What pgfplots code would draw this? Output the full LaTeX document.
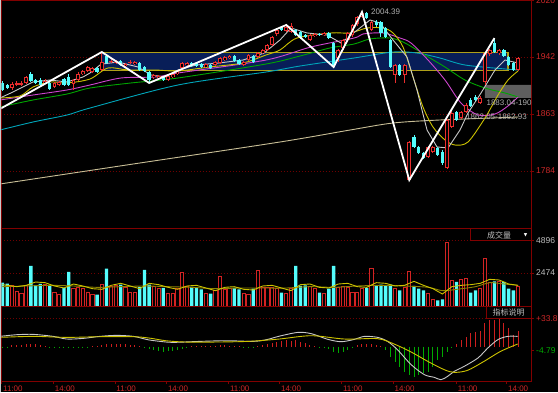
\documentclass[border=0pt]{standalone}
\usepackage{pgfplots}
\pgfplotsset{compat=1.18}
\usepackage{pgfplotstable}
\usepackage{fontspec}
\setmainfont{Liberation Sans}
\newfontfamily\cjk{Noto Sans CJK SC}
\newfontfamily\dejavu{DejaVu Sans}

\definecolor{upred}{RGB}{235,45,45}
\definecolor{volred}{RGB}{210,35,35}
\definecolor{downcyan}{RGB}{84,252,252}
\definecolor{framered}{RGB}{130,0,0}
\definecolor{gridred}{RGB}{110,0,0}
\definecolor{labelred}{RGB}{205,40,40}
\definecolor{labelgrey}{RGB}{190,190,190}
\definecolor{textgrey}{RGB}{175,175,175}
\definecolor{maw}{RGB}{200,200,200}
\definecolor{may}{RGB}{205,195,0}
\definecolor{mam}{RGB}{205,70,205}
\definecolor{mag}{RGB}{0,165,0}
\definecolor{mat}{RGB}{0,165,185}
\definecolor{mab}{RGB}{200,190,150}
\definecolor{boxfill}{RGB}{8,30,88}
\definecolor{boxedge}{RGB}{175,160,25}
\definecolor{greybox}{RGB}{95,95,95}
\definecolor{macdgreen}{RGB}{0,170,0}
\definecolor{macdred}{RGB}{205,30,30}
\definecolor{vololive}{RGB}{140,130,0}
\definecolor{winborder}{RGB}{200,200,200}

\pgfplotstableread{
i o h l c v m
0 1906.0 1908.7 1894.9 1896.3 1750 -1.0
1 1903.2 1904.6 1897.6 1899.0 1675 -1.2
2 1899.0 1907.4 1896.3 1904.6 1550 1.5
3 1903.9 1908.7 1901.8 1906.0 1100 2.0
4 1904.0 1908.7 1901.8 1906.0 925 2.5
5 1906.0 1915.7 1904.6 1914.3 1550 3.0
6 1918.4 1921.2 1907.4 1908.7 3000 3.5
7 1910.1 1911.5 1904.6 1906.0 1550 3.0
8 1910.1 1912.9 1901.8 1903.2 1650 2.0
9 1906.0 1911.5 1904.6 1908.7 1600 1.0
10 1906.0 1907.4 1896.3 1897.6 1500 -0.5
11 1900.4 1907.4 1899.0 1906.0 1050 -1.0
12 1903.2 1908.7 1901.8 1907.4 900 -1.5
13 1911.5 1912.9 1901.8 1903.2 1350 -1.8
14 1914.3 1918.4 1901.8 1903.2 2550 -2.0
15 1904.6 1911.5 1896.3 1910.1 1350 -1.8
16 1910.1 1921.2 1908.7 1918.4 1400 -1.5
17 1918.4 1924.0 1917.1 1922.6 1350 -1.0
18 1922.6 1929.5 1921.2 1928.1 1000 -0.5
19 1921.2 1928.1 1919.8 1926.8 850 0.5
20 1926.8 1928.1 1919.8 1921.2 850 1.0
21 1924.0 1948.9 1922.6 1935.1 1600 2.0
22 1943.4 1946.2 1932.3 1933.7 2800 3.0
23 1935.1 1939.2 1933.7 1936.5 1500 3.5
24 1933.7 1937.8 1932.3 1935.1 1550 3.5
25 1936.5 1937.8 1929.5 1930.9 1600 3.0
26 1929.5 1933.7 1928.1 1932.3 1425 3.0
27 1933.7 1937.8 1932.3 1935.1 1050 2.5
28 1932.3 1936.5 1930.9 1935.1 1000 1.5
29 1933.7 1935.1 1922.6 1924.0 1425 0.5
30 1928.1 1929.5 1921.2 1922.6 2700 -1.5
31 1921.2 1922.6 1906.0 1910.1 1600 -3.0
32 1914.3 1918.4 1911.5 1917.1 1500 -4.5
33 1912.9 1917.1 1910.1 1915.7 1350 -5.5
34 1914.3 1915.7 1908.7 1910.1 1350 -6.0
35 1910.1 1917.1 1908.7 1915.7 925 -5.5
36 1914.3 1919.8 1912.9 1918.4 925 -5.0
37 1918.4 1924.0 1917.1 1922.6 1350 -4.0
38 1926.8 1935.1 1925.4 1933.7 2500 -2.5
39 1930.9 1935.1 1929.5 1933.7 1500 -1.0
40 1933.7 1935.1 1928.1 1929.5 1425 0.5
41 1933.7 1935.1 1928.1 1929.5 1350 1.0
42 1932.3 1933.7 1926.8 1928.1 1250 1.0
43 1928.1 1933.7 1926.8 1932.3 925 1.2
44 1930.9 1932.3 1925.4 1926.8 925 1.2
45 1930.9 1936.5 1929.5 1935.1 1175 1.0
46 1933.7 1942.0 1932.3 1940.6 2250 1.5
47 1937.8 1943.4 1936.5 1942.0 1250 1.5
48 1940.6 1944.8 1939.2 1943.4 1350 1.2
49 1943.4 1944.8 1935.1 1936.5 1350 1.0
50 1937.8 1939.2 1930.9 1932.3 1250 0.5
51 1930.9 1936.5 1929.5 1935.1 925 -0.8
52 1937.8 1946.2 1936.5 1944.8 850 -1.0
53 1943.4 1944.8 1933.7 1935.1 1300 -0.8
54 1942.0 1948.9 1940.6 1947.5 2700 1.0
55 1947.5 1953.1 1946.2 1951.7 1425 2.0
56 1951.7 1960.0 1950.3 1958.6 1425 3.0
57 1958.6 1971.1 1957.2 1969.7 1425 4.5
58 1973.9 1980.8 1971.1 1979.4 1350 6.0
59 1983.6 1985.0 1978.0 1979.4 1000 7.0
60 1978.0 1986.4 1976.7 1983.6 925 7.5
61 1976.7 1989.1 1975.3 1985.0 1350 7.0
62 1979.4 1980.8 1971.1 1972.5 3000 7.5
63 1976.7 1978.0 1966.9 1968.3 1500 6.0
64 1972.5 1973.9 1968.3 1969.7 1550 4.0
65 1965.6 1973.9 1964.2 1972.5 1500 2.5
66 1971.1 1975.3 1969.7 1973.9 1350 1.0
67 1973.9 1975.3 1971.1 1972.5 1000 -0.5
68 1972.5 1976.7 1971.1 1975.3 925 -1.5
69 1975.3 1976.7 1966.9 1968.3 1300 -3.0
70 1961.4 1962.8 1928.1 1930.9 3000 -6.0
71 1940.6 1953.1 1935.1 1951.7 1425 -7.0
72 1954.5 1967.0 1951.7 1965.6 1500 -6.0
73 1965.6 1976.7 1962.8 1975.3 1425 -3.5
74 1972.5 1987.7 1969.7 1986.4 1050 -1.0
75 1987.7 1998.8 1985.0 1997.4 1000 1.5
76 1997.4 2004.39 1996.1 2003.0 1350 3.0
77 2003.0 2004.0 1994.7 1996.1 1350 3.5
78 1979.4 1991.9 1978.0 1990.5 2800 3.0
79 1990.5 1993.3 1983.6 1986.4 1500 2.5
80 1990.5 1991.9 1969.7 1975.3 1600 1.0
81 1982.2 1983.6 1968.3 1969.7 1550 -4.0
82 1965.6 1967.0 1926.8 1928.1 1600 -12.0
83 1917.1 1932.3 1906.0 1930.9 1300 -18.0
84 1930.9 1932.3 1915.7 1917.1 1175 -24.0
85 1917.1 1932.3 1906.0 1930.9 1425 -30.0
86 1771.5 1825.6 1771.5 1824.2 2600 -34.0
87 1831.1 1833.9 1815.9 1817.3 1500 -36.0
88 1817.3 1818.7 1807.5 1808.9 1300 -34.0
89 1808.9 1810.3 1800.6 1802.0 1175 -32.0
90 1803.4 1818.7 1802.0 1817.3 925 -30.0
91 1810.3 1818.7 1808.9 1817.3 500 -24.0
92 1815.9 1817.3 1804.8 1806.2 425 -16.0
93 1810.3 1813.1 1792.3 1795.1 500 -12.0
94 1788.2 1856.1 1786.8 1854.7 4750 -6.0
95 1845.0 1867.2 1843.6 1864.4 1925 -2.0
96 1865.8 1867.2 1853.3 1854.7 1800 3.0
97 1857.4 1867.2 1856.1 1865.8 2000 8.0
98 1865.8 1878.2 1864.4 1875.5 2100 12.0
99 1882.4 1885.2 1872.7 1874.1 1000 16.0
100 1886.6 1889.4 1881.0 1882.4 1175 18.0
101 1878.2 1888.0 1876.8 1885.2 1300 19.0
102 1907.4 1948.9 1903.2 1947.5 3600 28.0
103 1946.2 1953.1 1943.4 1951.7 1800 32.0
104 1961.4 1968.3 1947.5 1948.9 1850 32.0
105 1947.5 1953.1 1944.8 1951.7 1850 34.0
106 1951.7 1953.1 1942.0 1943.4 1800 28.0
107 1942.0 1943.4 1929.5 1930.9 1300 22.0
108 1933.7 1935.1 1922.6 1924.0 1175 14.0
109 1924.0 1942.0 1922.6 1940.6 1500 19.0
}\kline

\pgfplotsset{
  panel/.style={
    scale only axis, anchor=south west, width=529.5pt,
    xmin=-0.211, xmax=111.73,
    axis line style={draw=framered, line width=0.8pt},
    tick style={draw=framered, line width=0.6pt},
    tick align=outside, major tick length=3pt,
    ytick pos=right, yticklabel pos=right,
    yticklabel shift=2pt,
    yticklabel style={anchor=west, inner sep=0pt, font=\fontsize{8.5}{9}\selectfont},
    ymajorgrids, grid style={draw=gridred, line width=0.7pt, dash pattern=on 1pt off 2pt},
    /pgf/number format/assume math mode=true,
  },
  candle/.style={draw=none, mark=none, error bars/.cd, y dir=both, y explicit, error mark=none},
}

\begin{document}
\begin{tikzpicture}[x=1pt,y=1pt]
\fill[black] (0pt,0pt) rectangle (558pt,392pt);
\path[use as bounding box] (0pt,0pt) rectangle (558pt,392pt);

% ---------------- price panel ----------------
\begin{axis}[panel, at={(1.5pt,163.5pt)}, height=228.5pt,
  ymin=1704.3, ymax=2021.0, xtick=\empty,
  ytick={1784,1863,1942,2020}, yticklabels={1784,1863,1942,2020},
  yticklabel style={text=labelred}]
\addplot[fill=boxfill, draw=boxedge, line width=1.2pt] coordinates {(20.97,1948.5) (106.87,1948.5) (106.87,1923.0) (20.97,1923.0) (20.97,1948.5)};
\addplot[fill=greybox, draw=none] coordinates {(102.0,1903.2) (112.5,1903.2) (112.5,1885.2) (102.0,1885.2) (102.0,1903.2)};
% moving averages
\addplot[mab, line width=0.9pt, smooth] coordinates {(-0.53,1766.0) (29.07,1795.1) (58.67,1824.2) (73.47,1840.8) (82.56,1850.5) (92.49,1854.7) (108.99,1858.8)};
\addplot[mat, line width=0.9pt, smooth] coordinates {(-0.53,1840.8) (6.45,1851.9) (13.64,1861.6) (18.50,1871.3) (37.10,1903.2) (55.71,1921.2) (62.90,1929.5) (74.31,1940.6) (82.56,1948.9) (87.63,1947.5) (92.49,1940.6) (97.78,1930.9) (106.24,1925.4) (108.99,1924.0)};
\addplot[mag, line width=0.9pt, smooth] coordinates {(-0.53,1872.7) (6.45,1882.4) (13.64,1890.7) (18.50,1899.0) (27.17,1906.0) (37.10,1912.9) (55.71,1932.3) (62.90,1943.4) (69.24,1954.5) (74.31,1960.0) (77.70,1967.0) (81.92,1968.3) (84.67,1962.8) (87.63,1951.7) (90.38,1940.6) (93.55,1928.1) (97.78,1910.1) (102.01,1899.0) (106.24,1892.1) (108.99,1886.6)};
\addplot[mam, line width=0.9pt, smooth] coordinates {(-0.53,1882.4) (6.45,1889.3) (13.64,1896.3) (18.50,1903.2) (25.05,1912.9) (32.24,1914.3) (37.10,1919.8) (55.71,1937.8) (65.22,1955.9) (74.31,1968.3) (76.22,1973.9) (80.44,1975.3) (84.04,1968.3) (86.36,1961.4) (89.96,1937.8) (93.55,1910.1) (96.93,1878.2) (100.53,1861.6) (104.12,1863.0) (106.87,1874.1) (108.99,1886.6)};
\addplot[may, line width=0.9pt, smooth] coordinates {(-0.53,1885.2) (3.70,1888.0) (6.45,1900.4) (10.04,1907.4) (13.64,1906.0) (18.50,1911.5) (22.30,1926.8) (26.53,1924.0) (32.24,1924.0) (37.10,1922.6) (43.66,1928.1) (50.85,1933.7) (55.71,1944.8) (58.67,1951.7) (62.26,1968.3) (69.45,1975.3) (73.47,1975.3) (77.06,1982.2) (80.44,1982.2) (82.56,1975.3) (84.67,1955.9) (86.79,1914.3) (88.90,1872.7) (91.01,1845.0) (93.55,1827.0) (95.67,1820.0) (98.41,1824.2) (102.01,1857.5) (104.76,1889.3) (106.87,1910.1) (108.99,1922.6)};
\addplot[maw, line width=0.9pt] coordinates {(-0.53,1885.2) (2.22,1893.5) (6.45,1907.4) (10.04,1910.1) (13.64,1907.4) (17.02,1914.3) (18.50,1919.8) (20.82,1932.0) (24.42,1935.1) (28.65,1928.1) (31.40,1917.1) (34.36,1914.3) (37.10,1924.0) (40.91,1930.9) (45.77,1933.7) (50.85,1937.8) (55.29,1947.5) (58.67,1965.6) (60.99,1982.2) (64.38,1975.3) (68.60,1972.5) (71.56,1961.4) (73.68,1972.5) (77.70,1993.3) (79.81,1989.1) (82.56,1965.6) (85.52,1942.0) (87.63,1896.3) (89.75,1840.8) (91.86,1817.3) (94.19,1815.9) (96.72,1840.8) (98.41,1864.4) (101.16,1892.1) (104.12,1924.0) (106.24,1937.8) (108.99,1933.7)};
% candles: falling (cyan, filled)
\addplot[candle, error bar style={draw=downcyan, line width=0.9pt}]
  table[x=i, y expr={\thisrow{c}<\thisrow{o} ? (\thisrow{h}+\thisrow{l})/2 : nan}, y error expr={(\thisrow{h}-\thisrow{l})/2}] {\kline};
\addplot[candle, error bar style={draw=downcyan, line width=3.3pt}]
  table[x=i, y expr={\thisrow{c}<\thisrow{o} ? (\thisrow{o}+\thisrow{c})/2 : nan}, y error expr={(\thisrow{o}-\thisrow{c})/2}] {\kline};
% candles: rising (red, hollow)
\addplot[candle, error bar style={draw=upred, line width=0.9pt}]
  table[x=i, y expr={\thisrow{c}>=\thisrow{o} ? (\thisrow{h}+\thisrow{l})/2 : nan}, y error expr={(\thisrow{h}-\thisrow{l})/2}] {\kline};
\addplot[candle, error bar style={draw=upred, line width=3.9pt}]
  table[x=i, y expr={\thisrow{c}>=\thisrow{o} ? (\thisrow{o}+\thisrow{c})/2 : nan}, y error expr={(\thisrow{c}-\thisrow{o})/2}] {\kline};
\addplot[candle, error bar style={draw=black, line width=1.9pt}]
  table[x=i, y expr={\thisrow{c}>=\thisrow{o} ? (\thisrow{o}+\thisrow{c})/2 : nan}, y error expr={max((\thisrow{c}-\thisrow{o})/2-1.25,0)}] {\kline};
% zigzag
\addplot[white, line width=1.8pt] coordinates {(-0.53,1870.0) (21,1948.9) (31,1906.0) (60,1986.4) (70,1928.1) (76,2004.39) (86,1771.5) (104,1968.3)};
\node[anchor=west, text=textgrey, font=\fontsize{8}{9}\selectfont, inner sep=0pt] at (axis cs:77.9,2004.4) {2004.39};
\node[anchor=west, text=textgrey, font=\fontsize{8}{9}\selectfont, inner sep=0pt] at (axis cs:102.3,1878.2) {1883.04-190};
\node[anchor=west, text=textgrey, font=\fontsize{8}{9}\selectfont, inner sep=0pt] at (axis cs:98.0,1858.8) {1862.05-1862.93};
\end{axis}

% ---------------- volume panel ----------------
\begin{axis}[panel, at={(1.5pt,86pt)}, height=77.5pt, ymin=0, ymax=5812, xtick=\empty,
  ytick={2474,4896}, yticklabels={2474,4896}, yticklabel style={text=labelgrey}]
\addplot[ybar, bar width=3.3pt, bar shift=0pt, fill=downcyan, draw=none]
  table[x=i, y expr={\thisrow{c}<\thisrow{o} ? \thisrow{v} : nan}] {\kline};
\addplot[ybar, bar width=3.2pt, bar shift=0pt, fill=black, draw=volred, line width=0.9pt]
  table[x=i, y expr={\thisrow{c}>=\thisrow{o} ? \thisrow{v} : nan}] {\kline};
\addplot[vololive, line width=0.9pt, smooth] coordinates {(0,1450) (5,1500) (10,1550) (15,1500) (20,1400) (25,1450) (30,1500) (35,1450) (40,1400) (45,1300) (50,1350) (55,1350) (60,1350) (65,1450) (70,1400) (75,1500) (80,1550) (85,1500) (90,1400) (93,1150) (96,1250) (100,1450) (103,1750) (106,1650) (109,1550)};
\addplot[may, line width=0.9pt] coordinates {(0,1600) (3,1450) (5,1550) (7,1800) (9,1750) (11,1500) (13,1350) (15,1650) (17,1500) (19,1300) (21,1250) (23,1550) (25,1700) (27,1500) (29,1300) (31,1700) (33,1600) (35,1400) (37,1250) (39,1500) (41,1550) (43,1350) (45,1150) (47,1400) (49,1450) (51,1250) (53,1200) (55,1500) (57,1550) (59,1350) (61,1150) (63,1600) (65,1650) (67,1400) (69,1350) (71,1650) (73,1700) (75,1450) (77,1400) (79,1750) (81,1700) (83,1500) (85,1550) (87,1850) (89,1550) (91,1300) (93,900) (95,1450) (97,1550) (99,1600) (101,1700) (103,2000) (105,1950) (107,1650) (109,1550)};
\end{axis}

% ---------------- MACD panel ----------------
\begin{axis}[panel, at={(1.5pt,11pt)}, height=75pt, ymin=-41.16, ymax=48.84,
  ytick={33.87}, yticklabels={\textcolor{labelred}{+33.87}},
  extra y ticks={-4.79}, extra y tick labels={\textcolor{macdgreen}{-4.79}}, extra y tick style={grid=none},
  xtick={-0.15,10.78,23.8,34.7,47.8,58.6,71.7,82.6,96.0,106.6},
  xticklabels={11:00,14:00,11:00,14:00,11:00,14:00,11:00,14:00,11:00,14:00},
  xtick pos=left, xticklabel shift=1.5pt,
  xticklabel style={anchor=north west, inner sep=0pt, xshift=1.2pt, text=labelred, font=\fontsize{8}{9}\selectfont}]
\addplot[ycomb, draw=macdred, line width=1pt] table[x=i, y expr={\thisrow{m}>0 ? \thisrow{m} : nan}] {\kline};
\addplot[ycomb, draw=macdgreen, line width=1pt] table[x=i, y expr={\thisrow{m}<0 ? \thisrow{m} : nan}] {\kline};
\addplot[maw, line width=0.9pt, smooth] coordinates {(-0.53,12.4) (3,14.4) (6.5,14.8) (10.7,12.4) (13.6,9.2) (17.1,10) (20.6,12.4) (24.1,13.6) (27.7,12.4) (30.7,8.4) (33.3,6.4) (36.1,5.2) (41.8,6.4) (47.4,7.2) (53,6.4) (55.8,8.4) (58.5,12.6) (62.5,17.2) (65.3,15.6) (68.8,8.8) (71.6,6) (74.4,8.8) (76.5,12.4) (79.3,11.2) (81.4,6.4) (83.5,-3.6) (86.4,-21.6) (89.2,-33.6) (91.3,-36.8) (92.7,-39.6) (94.1,-35.6) (95.5,-29.6) (97.6,-23.6) (100.5,-13.6) (102.6,-1.6) (104.7,8.4) (106.8,12.4) (108.9,12.4)};
\addplot[may, line width=0.9pt, smooth] coordinates {(-0.53,11.2) (6.5,12.4) (13.6,11.2) (20.6,12) (27.7,12) (31,10.4) (34.5,7.2) (38.7,5.6) (45,5.6) (52,6.4) (58.5,9.2) (65.3,13.2) (72.3,9.2) (79.3,9.6) (82.8,3.2) (86.4,-6.4) (89.9,-17.6) (93.4,-27.6) (95.5,-30.8) (98.3,-28.4) (101.8,-17.6) (105.3,-5.6) (108.9,3.2)};
\end{axis}

% panel headers
\draw[framered, line width=0.8pt, fill=black] (470pt,152pt) rectangle (531pt,163.5pt);
\node[text=labelgrey, font=\cjk\fontsize{8}{9}\selectfont, inner sep=0pt] at (499pt,157pt) {成交量};
\node[text=white, font=\dejavu\fontsize{4.5}{5}\selectfont, inner sep=0pt] at (525.5pt,157pt) {▼};
\draw[framered, line width=0.8pt, fill=black] (486pt,73.7pt) rectangle (531pt,85.3pt);
\node[text=labelgrey, font=\cjk\fontsize{8}{9}\selectfont, inner sep=0pt] at (508.5pt,79.5pt) {指标说明};
% window border on the left edge
\draw[winborder, line width=1.2pt] (0.6pt,0pt) -- (0.6pt,392pt);
\end{tikzpicture}
\end{document}
